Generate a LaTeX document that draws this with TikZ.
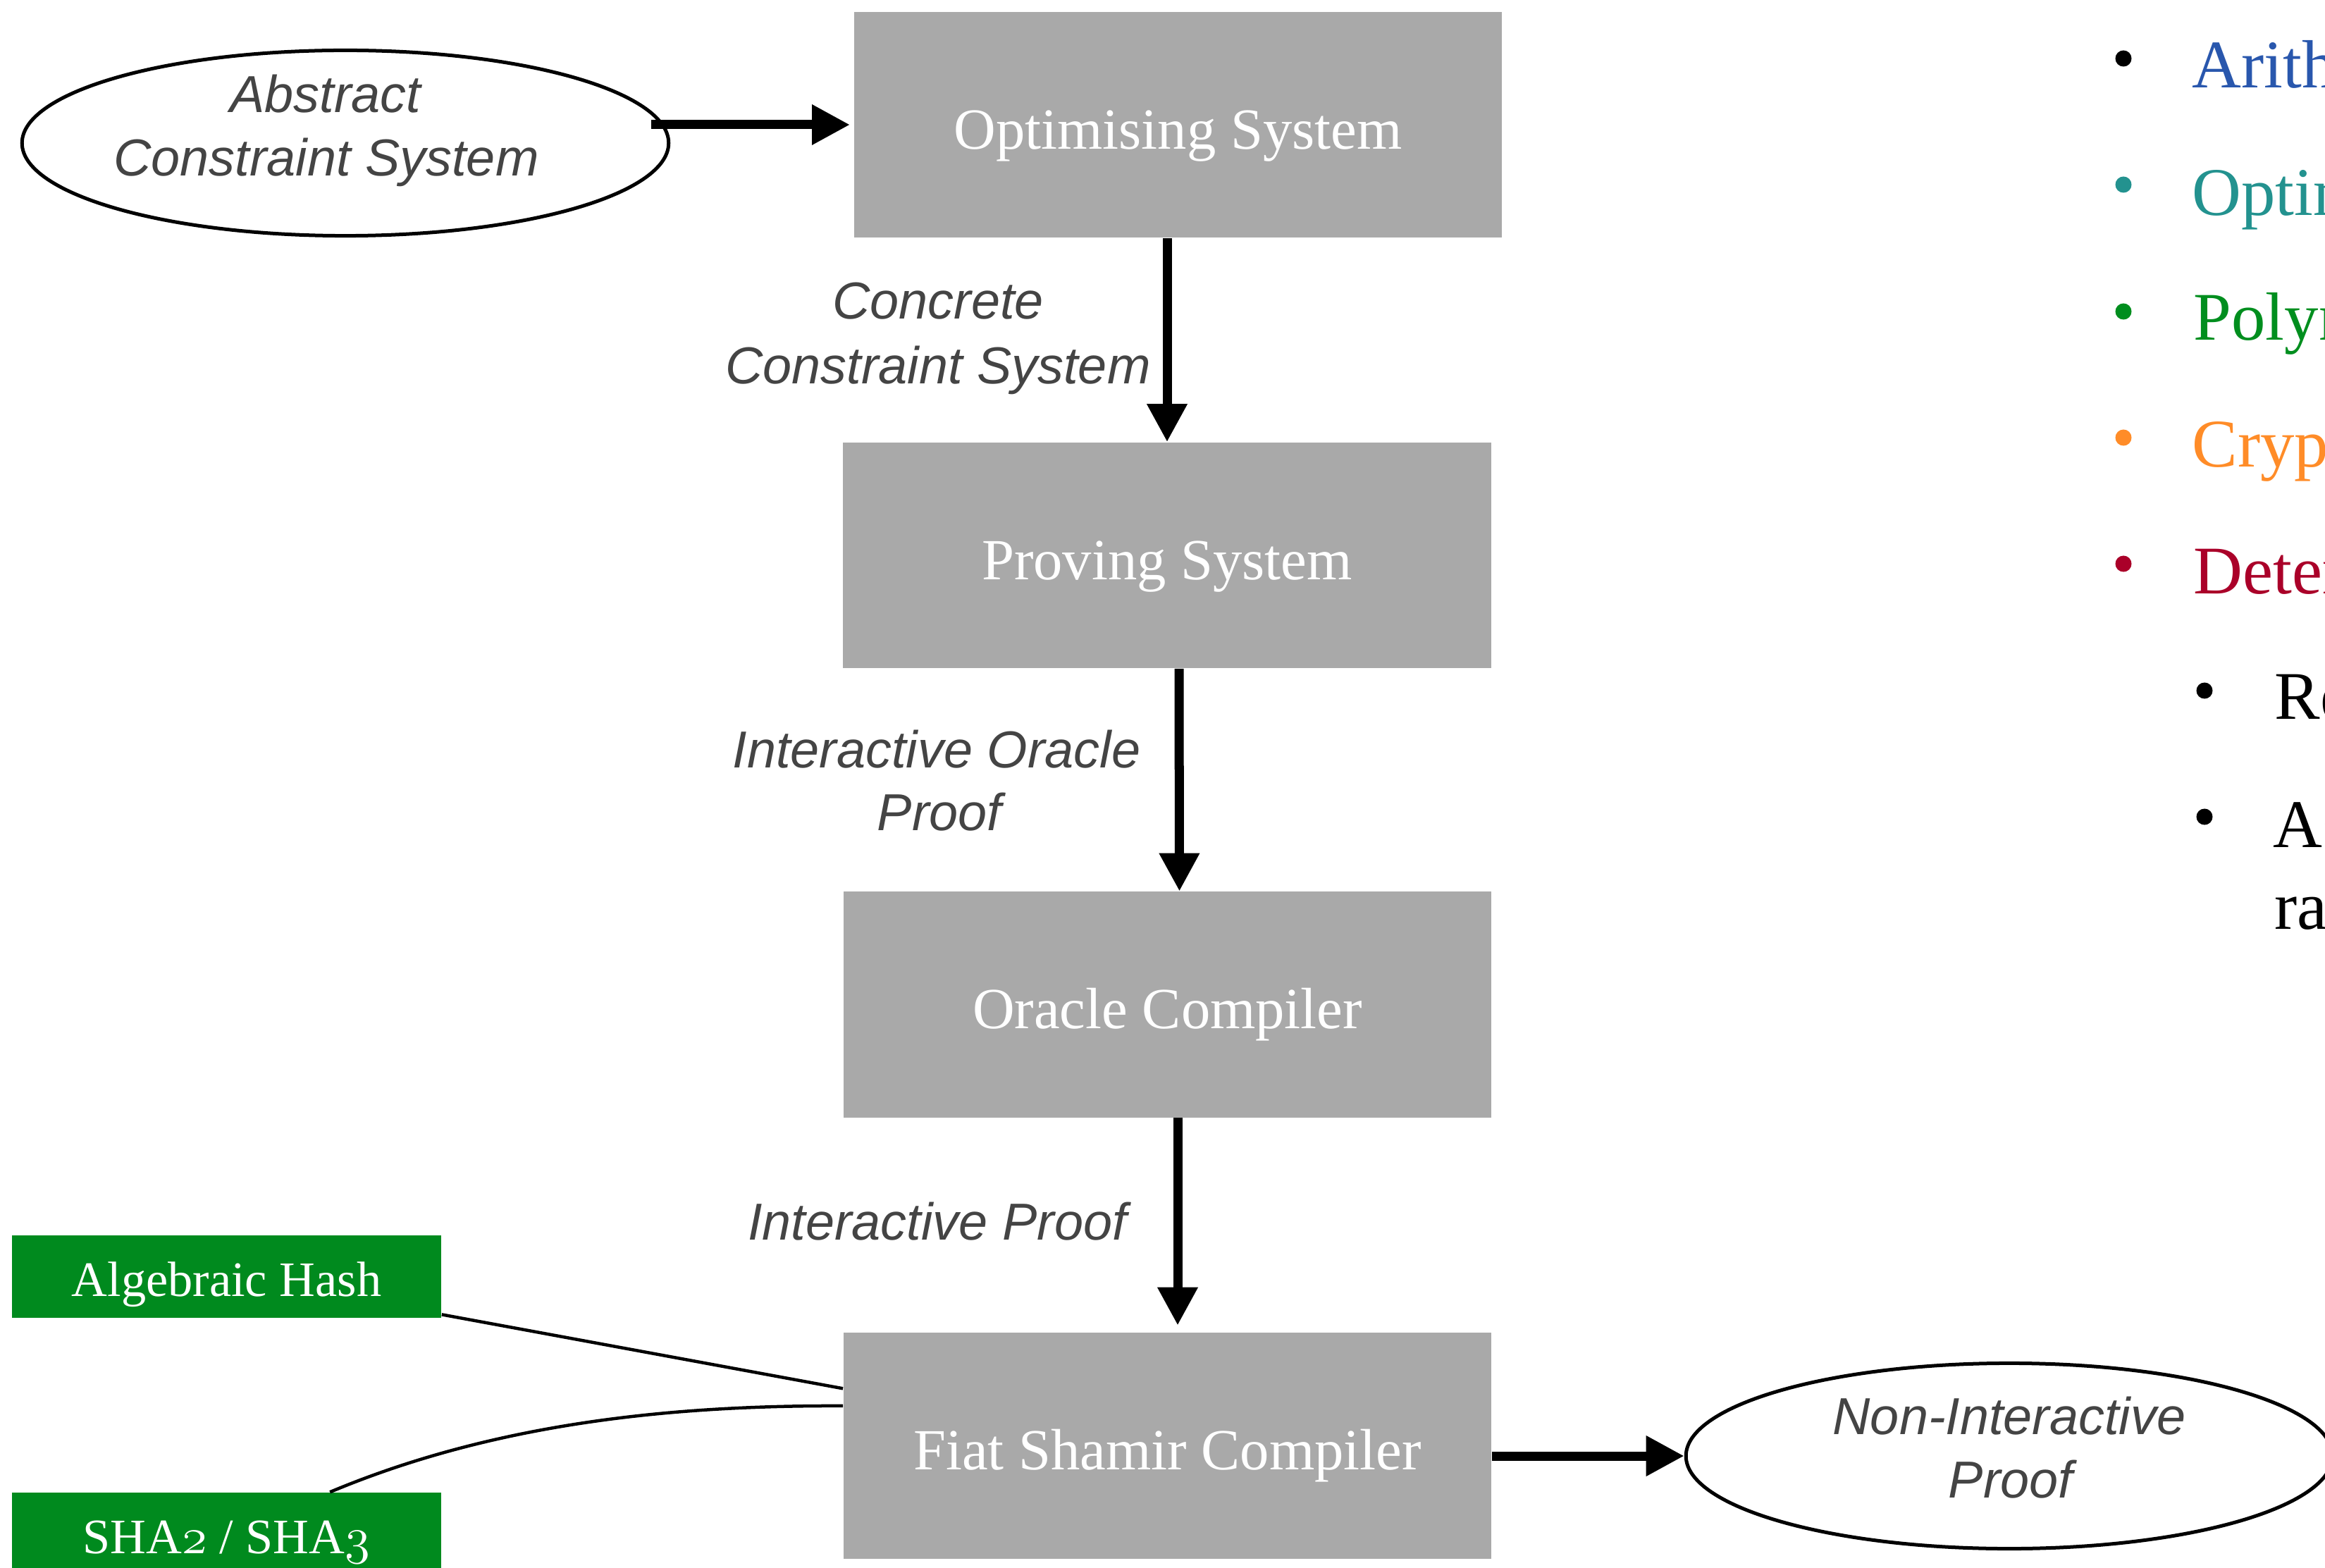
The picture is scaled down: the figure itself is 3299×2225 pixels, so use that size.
\documentclass[tikz,border=0pt]{standalone}
\usepackage{fontspec}
\setmainfont{Liberation Serif}
\newfontfamily\labfont{Liberation Sans}
\usetikzlibrary{arrows.meta,shapes.geometric,calc}
\definecolor{boxgray}{RGB}{169,169,169}
\definecolor{boxgreen}{RGB}{0,138,30}
\definecolor{labgray}{RGB}{68,68,68}
\definecolor{cblue}{RGB}{41,87,173}
\definecolor{cteal}{RGB}{35,146,143}
\definecolor{cgreen}{RGB}{0,142,30}
\definecolor{corange}{RGB}{255,140,40}
\definecolor{cred}{RGB}{170,0,41}
\newcommand{\osn}[1]{{\usefont{OML}{cmm}{m}{it}#1}}
\begin{document}
\begin{tikzpicture}[x=0.01cm,y=-0.01cm,
 graybox/.style={fill=boxgray, inner sep=0, minimum width=9.19cm, minimum height=3.2cm, text=white, font=\fontsize{23.5}{28}\selectfont, text height=0.88cm, text depth=0.2cm},
 greenbox/.style={fill=boxgreen, inner sep=0, minimum width=6.09cm, minimum height=1.17cm, text=white, font=\fontsize{20}{24}\selectfont, text height=0.76cm, text depth=0.2cm},
 oval/.style={ellipse, draw, line width=0.05cm, inner sep=0, minimum width=9.17cm, minimum height=2.63cm},
 lab/.style={anchor=base, inner sep=0, text=labgray, font=\labfont\itshape\fontsize{21}{25}\selectfont},
 arr/.style={line width=0.13cm, -{Triangle[length=0.54cm,width=0.54cm]}},
 link/.style={line width=0.045cm},
 itemtext/.style={anchor=base west, inner sep=0, font=\fontsize{27.5}{33}\selectfont},
 bulletdot/.style={circle, inner sep=0, minimum size=0.23cm}]
\useasboundingbox (0,0) rectangle (3299,2225);
\clip (0,0) rectangle (3299,2225);

% main boxes
\node[graybox] (opt)  at (1671.5,177)   {Optimising System};
\node[graybox] (prov) at (1656,788)     {Proving System};
\node[graybox] (orc)  at (1656.5,1425.5){Oracle Compiler};
\node[graybox] (fiat) at (1656.5,2051.5){Fiat Shamir Compiler};

% ellipses
\node[oval] (abs) at (490,203) {};
\node[lab] (absA) at (462,160) {Abstract};
\node[lab] (absB) at (463,250) {Constraint System};
\node[oval] (nip) at (2851,2066) {};
\node[lab] (nipA) at (2851,2035) {Non-Interactive};
\node[lab] (nipB) at (2853,2125) {Proof};

% edge labels
\node[lab] (ccsA) at (1331,453) {Concrete};
\node[lab] (ccsB) at (1331,545) {Constraint System};
\node[lab] (iopA) at (1329,1090) {Interactive Oracle};
\node[lab] (iopB) at (1333,1178) {Proof};
\node[lab] (ip)   at (1330,1759) {Interactive Proof};

% green boxes
\node[greenbox] (alg) at (321.5,1811.5) {Algebraic Hash};
\node[greenbox] (sha) at (321.5,2176.5) {SHA\osn{2} / SHA\osn{3}};

% arrows
\draw[arr] ($(abs.east |- opt.west)+(-27,0)$) -- ([xshift=-0.05cm]opt.west);
\draw[arr] (prov.north |- opt.south) -- (prov.north);
\draw[arr] ([xshift=0.17cm]prov.south) -- ([xshift=0.17cm]orc.north);
\draw[arr, shorten >=0.1cm] ([xshift=0.145cm]orc.south) -- ([xshift=0.145cm]fiat.north);
\draw[arr] (fiat.east |- nip.west) -- (nip.west);

% hash links
\draw[link] (alg.-10) -- (fiat.170);
\draw[link] (sha.22) .. controls (700,2020) and (950,1994) .. (fiat.173);

% bullet list (cut at right edge)
\node[bulletdot, fill=black]   (d1) at (3013,83)  {};
\node[itemtext, text=cblue]    (t1) at (3110,125) {Arith};
\node[bulletdot, fill=cteal]   (d2) at (3013,262) {};
\node[itemtext, text=cteal]    (t2) at (3110,306) {Optim};
\node[bulletdot, fill=cgreen]  (d3) at (3013,442) {};
\node[itemtext, text=cgreen]   (t3) at (3112,483) {Polyn};
\node[bulletdot, fill=corange] (d4) at (3013,621) {};
\node[itemtext, text=corange]  (t4) at (3110,663) {Cryp};
\node[bulletdot, fill=cred]    (d5) at (3013,800) {};
\node[itemtext, text=cred]     (t5) at (3112,843) {Deter};
\node[bulletdot, fill=black]   (d6) at (3128,980) {};
\node[itemtext]                (t6) at (3227,1021) {Re};
\node[bulletdot, fill=black]   (d7) at (3128,1159) {};
\node[itemtext]                (t7) at (3225,1202) {As};
\node[itemtext]                (t8) at (3227,1318) {ra};
\end{tikzpicture}
\end{document}
